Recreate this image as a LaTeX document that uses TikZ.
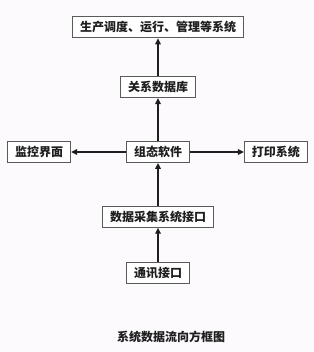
\documentclass[tikz,border=0pt]{standalone}
\usepackage{fontspec}
\newfontfamily\cjk{Noto Sans CJK SC}
\usetikzlibrary{arrows.meta,positioning}
\definecolor{ink}    {HTML}{1E1E1E}
\definecolor{boxline}{HTML}{5A5A5A}
\definecolor{paper}  {HTML}{FDFAFD}
\tikzset{
  flownode/.style={
    rectangle, draw=boxline, line width=0.8pt, fill=white,
    text=ink, font=\cjk\bfseries\fontsize{12pt}{14pt}\selectfont,
    minimum height=21pt, inner xsep=7.5pt, inner ysep=2pt
  },
  flowarrow/.style={
    -{Triangle[length=6pt, width=5.5pt]}, line width=1.6pt, draw=ink
  },
  captext/.style={text=ink, font=\cjk\bfseries\fontsize{12pt}{14pt}\selectfont}
}

\begin{document}
\begin{tikzpicture}[x=1pt, y=1pt, node distance=43pt]
  \fill[paper] (0,0) rectangle (313,-352);
  \useasboundingbox (0,0) rectangle (313,-352);
  \node[flownode] (core) at (158,-152) {组态软件};
  \node[flownode, above=of core] (db) {关系数据库};
  \node[flownode, above=38pt of db] (mgmt) {生产调度、运行、管理等系统};
  \node[flownode, below=of core] (acq) {数据采集系统接口};
  \node[flownode, below=34pt of acq] (comm) {通讯接口};
  \node[flownode, left=55pt of core] (mon) {监控界面};
  \node[flownode, right=54pt of core] (prn) {打印系统};
  \node[captext] (cap) at (171,-337) {系统数据流向方框图};
  \draw[flowarrow] (comm) -- (acq);
  \draw[flowarrow] (acq) -- (core);
  \draw[flowarrow] (core) -- (db);
  \draw[flowarrow] (db) -- (mgmt);
  \draw[flowarrow] (core) -- (mon);
  \draw[flowarrow] (core) -- (prn);
\end{tikzpicture}
\end{document}
